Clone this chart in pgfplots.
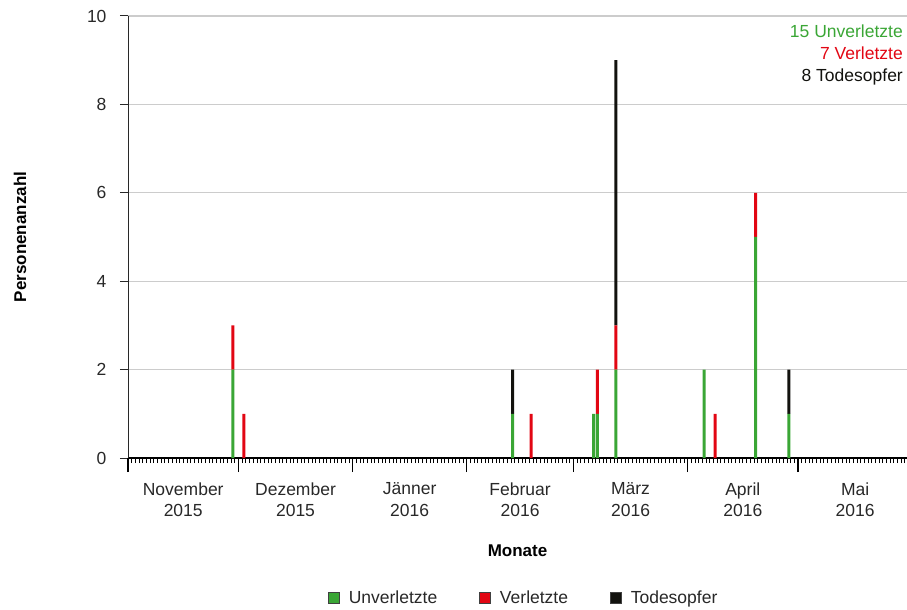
\documentclass[border=0pt]{standalone}
\usepackage{pgfplots}
\pgfplotsset{compat=1.18}
\usepackage{fontspec}
\setmainfont{Liberation Sans}
\definecolor{cgreen}{RGB}{58,166,53}
\definecolor{cred}{RGB}{226,6,19}
\definecolor{cblack}{RGB}{18,18,14}
\definecolor{ctext}{RGB}{40,40,40}
\begin{document}
\begin{tikzpicture}
\useasboundingbox (-128pt,-152pt) rectangle (779pt,458pt);
\begin{axis}[
  at={(0pt,0pt)}, anchor=south west,
  scale only axis, width=779pt, height=442pt,
  xmin=0, xmax=211.6, ymin=0, ymax=10,
  ybar stacked, bar width=0.8,
  axis lines*=left,
  x axis line style={line width=1.6pt, black},
  y axis line style={line width=0.8pt, ctext},
  tick align=outside,
  major tick length=8pt,
  minor tick length=5pt,
  /pgf/number format/assume math mode=true,
  ytick={0,2,4,6,8,10},
  ytick style={line width=1pt, ctext},
  ymajorgrids,
  grid style={line width=1.2pt, gray!40},
  xtick={15,45.5,76.5,106.5,136.5,167,197.5},
  xticklabels={{November\\2015},{Dezember\\2015},{Jänner\\2016},{Februar\\2016},{März\\2016},{April\\2016},{Mai\\2016}},
  xtick style={draw=none},
  xticklabel style={align=center, font=\fontsize{17.5}{21.5}\selectfont, text=ctext, yshift=-13pt},
  minor xtick={0,1,...,211},
  minor x tick style={draw=black, line width=0.7pt},
  extra x ticks={0,30,61,92,121,152,182},
  extra x tick labels={},
  extra x tick style={grid=none, major tick length=14pt, xtick style={draw=black, line width=1.6pt}},
  yticklabel style={font=\fontsize{17.5}{21}\selectfont, text=ctext, xshift=-10pt},
  xlabel={Monate},
  ylabel={Personenanzahl},
  xlabel style={at={(axis description cs:0.5,-0.2104)}, anchor=center, font=\fontsize{17}{20}\selectfont\bfseries, text=black},
  ylabel style={at={(axis description cs:-0.1386,0.5)}, anchor=center, font=\fontsize{17}{20}\selectfont\bfseries, text=black},
  legend image code/.code={\draw[#1, draw=black!75, line width=0.7pt] (0pt,-5.5pt) rectangle (11pt,5.5pt);},
  legend style={at={(axis description cs:0.508,-0.3167)}, anchor=center, draw=none,
     font=\fontsize{17.5}{21}\selectfont, text=ctext, legend columns=3,
     /tikz/every odd column/.append style={column sep=7pt},
     /tikz/every even column/.append style={column sep=40pt}},
]
\addplot[fill=cgreen, draw=none] coordinates {(28.5,2) (31.5,0) (104.5,1) (109.5,0) (126.5,1) (127.5,1) (132.5,2) (156.5,2) (159.5,0) (170.5,5) (179.5,1)};
\addplot[fill=cred, draw=none] coordinates {(28.5,1) (31.5,1) (104.5,0) (109.5,1) (126.5,0) (127.5,1) (132.5,1) (156.5,0) (159.5,1) (170.5,1) (179.5,0)};
\addplot[fill=cblack, draw=none] coordinates {(28.5,0) (31.5,0) (104.5,1) (109.5,0) (126.5,0) (127.5,0) (132.5,6) (156.5,0) (159.5,0) (170.5,0) (179.5,1)};
\legend{Unverletzte, Verletzte, Todesopfer}
\node[anchor=north east, align=right, inner sep=0pt, font=\fontsize{17.5}{22}\selectfont, xshift=-4pt, yshift=-9pt]
  at (rel axis cs:1,1) {{\color{cgreen}15 Unverletzte}\\{\color{cred}7 Verletzte}\\{\color{cblack}8 Todesopfer}};
\end{axis}
\end{tikzpicture}
\end{document}
